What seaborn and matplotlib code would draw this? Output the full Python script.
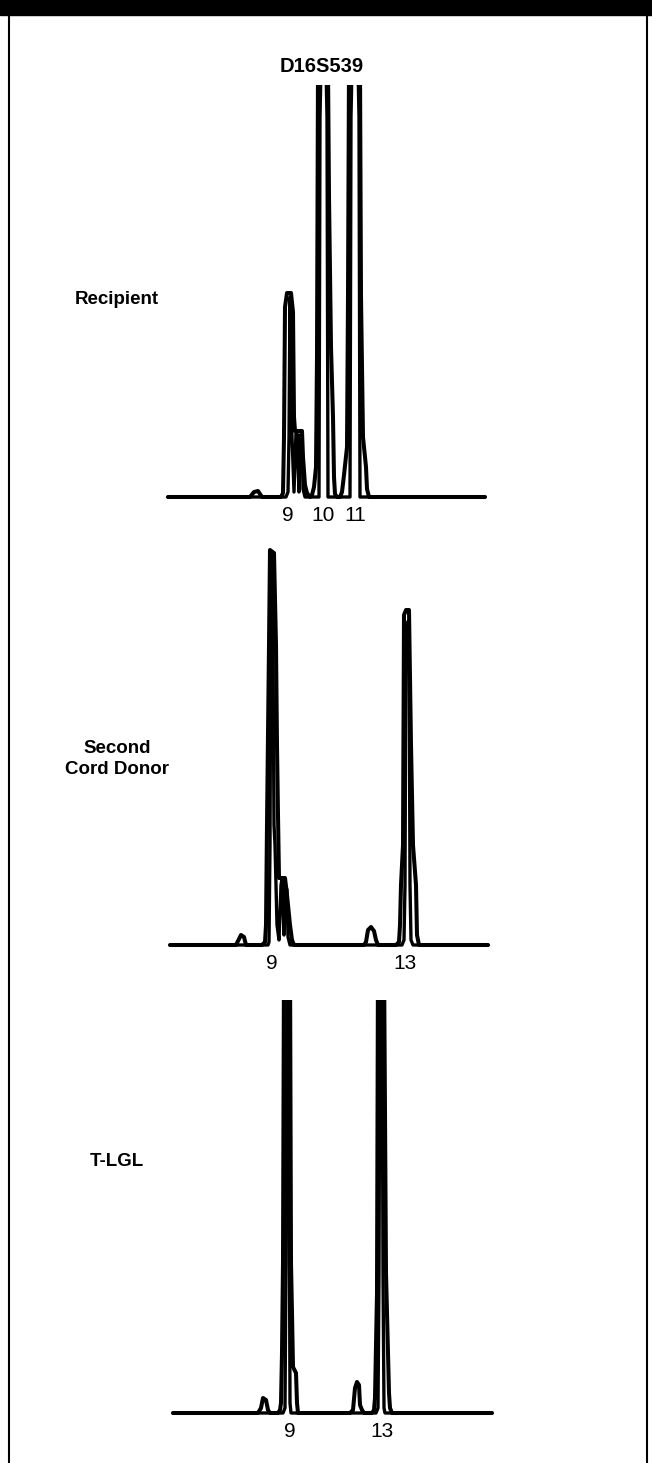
import matplotlib
matplotlib.use('Agg')
import matplotlib.pyplot as plt
import pandas as pd
import seaborn as sns

sns.set_theme(style='white')
plt.rcParams['font.family'] = ['Liberation Sans', 'DejaVu Sans']

W, H = 652, 1463
title = 'D16S539'

# three electropherograms, x = scan position, y = signal height
rec_outer_x = [168, 250, 254, 258, 262, 281, 283, 284, 285, 287, 291, 293, 294, 295, 302, 303, 305, 307, 310,
               312, 314, 316, 317, 318, 328, 329, 331, 333, 334, 335, 337, 340, 342, 344, 347, 348, 349, 360,
               361, 363, 366, 367, 369, 485]
rec_outer_y = [0, 0, 5, 6, 0, 0, 4, 60, 190, 204, 204, 185, 80, 66, 66, 40, 12, 4, 0,
               2, 10, 30, 140, 430, 430, 300, 150, 80, 20, 3, 0, 0, 5, 22, 50, 200, 430, 430,
               200, 60, 30, 8, 0, 0]
rec_inner_x = [168, 286, 288, 289, 290, 291, 292, 294, 296, 297, 299, 300, 302, 303, 305, 310, 319, 320,
               321, 326, 327, 328, 350, 351, 352, 358, 359, 360, 485]
rec_inner_y = [0, 0, 5, 60, 200, 120, 60, 5, 64, 64, 5, 62, 60, 8, 0, 0, 0, 380,
               430, 430, 380, 0, 0, 380, 430, 430, 380, 0, 0]
rec_ticks = [288, 323, 355]
rec_labels = ['9', '10', '11']

don_outer_x = [170, 236, 238, 241, 244, 246, 262, 265, 266, 267, 269, 270, 274, 276, 277, 278, 279, 285,
               287, 290, 292, 294, 364, 366, 368, 371, 374, 376, 378, 396, 399, 400, 401, 403, 404, 406,
               409, 411, 413, 416, 417, 419, 488]
don_outer_y = [0, 0, 4, 10, 8, 0, 0, 3, 20, 120, 300, 395, 392, 300, 200, 130, 67, 67,
               50, 20, 5, 0, 0, 3, 15, 18, 14, 5, 0, 0, 3, 20, 60, 100, 330, 335,
               335, 200, 100, 60, 10, 0, 0]
don_inner_x = [170, 268, 269, 270, 271, 272, 273, 274, 275, 277, 279, 281, 282, 284, 285, 287, 288, 290,
               402, 404, 405, 406, 409, 410, 411, 413, 488]
don_inner_y = [0, 0, 3, 100, 380, 390, 300, 120, 100, 20, 5, 60, 66, 10, 62, 55, 8, 0,
               0, 5, 60, 320, 325, 60, 5, 0, 0]
don_ticks = [272, 405]
don_labels = ['9', '13']

tlgl_outer_x = [173, 258, 261, 263, 266, 268, 270, 278, 280, 281, 282, 283, 284, 290, 291, 292, 293, 296,
                297, 298, 350, 353, 355, 357, 359, 360, 362, 364, 372, 374, 375, 377, 378, 384, 386, 388,
                389, 390, 392, 492]
tlgl_outer_y = [0, 0, 5, 15, 13, 3, 0, 0, 3, 10, 60, 150, 460, 460, 150, 100, 46, 40,
                10, 0, 0, 3, 25, 31, 28, 8, 3, 0, 0, 3, 15, 120, 460, 460, 140, 60,
                20, 5, 0, 0]
tlgl_inner_x = [173, 283, 285, 286, 287, 289, 289.5, 290, 291, 376, 378, 379, 380, 382, 383, 384, 385, 492]
tlgl_inner_y = [0, 0, 5, 150, 460, 460, 150, 10, 0, 0, 5, 140, 460, 460, 140, 5, 0, 0]
tlgl_ticks = [290, 382]
tlgl_labels = ['9', '13']

panels = [
    # label lines, baseline px, top px, outer trace, inner trace, ticks, label y
    (['Recipient'], 497, 85, (rec_outer_x, rec_outer_y), (rec_inner_x, rec_inner_y),
     rec_ticks, rec_labels, 300),
    (['Second', 'Cord Donor'], 945, 540, (don_outer_x, don_outer_y), (don_inner_x, don_inner_y),
     don_ticks, don_labels, 759),
    (['T-LGL'], 1413, 1000, (tlgl_outer_x, tlgl_outer_y), (tlgl_inner_x, tlgl_inner_y),
     tlgl_ticks, tlgl_labels, 1162),
]

fig = plt.figure(figsize=(W / 100, H / 100), dpi=100)
fig.patch.set_facecolor('white')

for lines, base, top, outer, inner, ticks, labels, label_y in panels:
    x0, x1 = 160, 496
    pad = 8
    ax = fig.add_axes([x0 / W, 1 - (base + pad) / H, (x1 - x0) / W, (base + pad - top) / H])
    d1 = pd.DataFrame({'pos': outer[0], 'signal': outer[1]})
    d2 = pd.DataFrame({'pos': inner[0], 'signal': inner[1]})
    sns.lineplot(data=d1, x='pos', y='signal', sort=False, estimator=None, color='black',
                 linewidth=2.9, ax=ax)
    sns.lineplot(data=d2, x='pos', y='signal', sort=False, estimator=None, color='black',
                 linewidth=2.4, ax=ax)
    ax.set_xlim(x0, x1)
    ax.set_ylim(-pad, base - top)
    ax.set_xticks(ticks, labels)
    ax.tick_params(axis='x', length=0, pad=1, labelsize=15, colors='black')
    ax.set_yticks([])
    ax.set_xlabel('')
    ax.set_ylabel('')
    for s in ax.spines.values():
        s.set_visible(False)
    ax.patch.set_alpha(0)
    fig.text(117 / W, 1 - label_y / H, '\n'.join(lines), ha='center', va='center',
             fontsize=13.5, fontweight='bold', color='black', linespacing=1.3)

fig.text(322 / W, 1 - 66 / H, title, ha='center', va='center', fontsize=14.5,
         fontweight='bold', color='black')

# frame: black band on top, thin rules down the sides
fig.add_artist(plt.Rectangle((0, 1 - 15 / H), 1, 15 / H, color='black', transform=fig.transFigure))
fig.add_artist(plt.Line2D([9 / W, 9 / W], [0, 1 - 15 / H], color='black', linewidth=1.5,
                          transform=fig.transFigure))
fig.add_artist(plt.Line2D([647 / W, 647 / W], [0, 1 - 15 / H], color='black', linewidth=1.5,
                          transform=fig.transFigure))

fig.savefig('out.png', dpi=100)
